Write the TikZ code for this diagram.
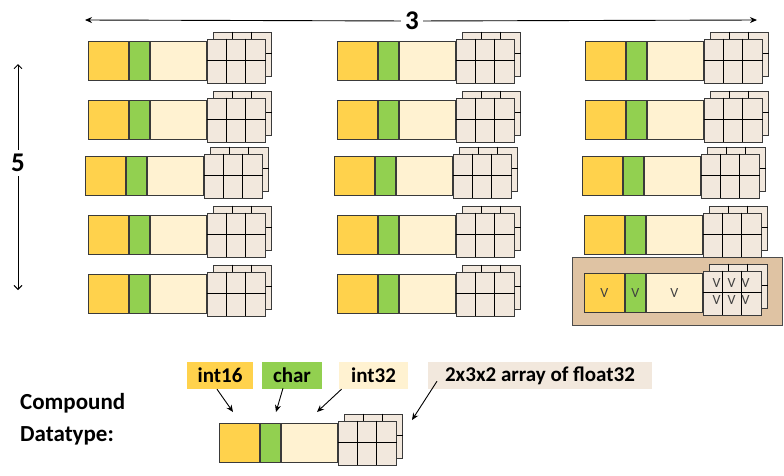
\documentclass[tikz,border=0pt]{standalone}
\usepackage{fontspec}
\setmainfont{Carlito}
\usetikzlibrary{arrows.meta,calc}
\definecolor{cyel}{HTML}{FFD24C}
\definecolor{cgrn}{HTML}{92D050}
\definecolor{ccrm}{HTML}{FFF2D1}
\definecolor{cgrd}{HTML}{F2E8DD}
\definecolor{cbrn}{HTML}{DFC3A3}
\definecolor{cline}{HTML}{3A3A3A}
\tikzset{
  fld/.style={draw=cline, line width=0.9pt, inner sep=0pt, minimum height=39pt},
  yel/.style={fld, fill=cyel, minimum width=40pt, anchor=north west},
  grn/.style={fld, fill=cgrn, minimum width=20pt, anchor=north west},
  crm/.style={fld, fill=ccrm, minimum width=56pt, anchor=north west},
  grd/.style={fld, fill=cgrd, minimum width=58pt, minimum height=44pt, anchor=west},
  gl/.style={line width=1pt, draw=black},
  lbl/.style={inner sep=0pt, minimum height=27pt, font=\bfseries\fontsize{21}{24}\selectfont},
  big/.style={inner sep=4pt, font=\bfseries\fontsize{27}{30}\selectfont},
  pt/.style={-{Stealth[length=7pt,width=6pt]}, line width=0.9pt},
  ln/.style={-{Straight Barb[length=4pt,width=8pt]}, line width=0.9pt},
  vv/.style={inner sep=0pt, text=black!75, font=\fontsize{14}{16}\selectfont},
}
\newcommand\onerec[3]{%
  \node[yel] (#1y) at (#2,#3) {};
  \node[grn] (#1g) at (#1y.north east) {};
  \node[crm] (#1c) at (#1g.north east) {};
  \node[grd] (#1b) at ([shift={(6,-7)}]#1c.east) {};
  \foreach \t in {0.3333,0.6667}
    \draw[gl] ($(#1b.north west)!\t!(#1b.north east)$) -- ($(#1b.south west)!\t!(#1b.south east)$);
  \draw[gl] (#1b.west) -- (#1b.east);
  \node[grd] (#1f) at (#1c.east) {};
  \foreach \t in {0.3333,0.6667}
    \draw[gl] ($(#1f.north west)!\t!(#1f.north east)$) -- ($(#1f.south west)!\t!(#1f.south east)$);
  \draw[gl] (#1f.west) -- (#1f.east);
}
\begin{document}
\begin{tikzpicture}[x=1pt,y=-1pt]
\path[use as bounding box] (0,0) rectangle (784,475);

% dimension arrows
\node[big] (n3) at (412,21) {3};
\coordinate (tL) at (85,20);
\coordinate (tR) at (757,20);
\draw[pt] (n3) -- (tL);
\draw[pt] (n3) -- (tR);
\node[big] (n5) at (18,163) {5};
\coordinate (vT) at (18,64);
\coordinate (vB) at (18,290);
\draw[ln] (n5) -- (vT);
\draw[ln] (n5) -- (vB);

% highlighted background
\node[draw=black!70, line width=0.9pt, fill=cbrn, inner sep=0pt, anchor=north west,
      minimum width=210pt, minimum height=68pt] (hl) at (572,257) {};

% 3 x 5 records
\onerec{ra}{88}{41}
\onerec{rb}{88}{100}
\onerec{rc}{85}{156}
\onerec{rd}{88}{215}
\onerec{re}{88}{274}
\onerec{sa}{337}{41}
\onerec{sb}{337}{100}
\onerec{sc}{334}{156}
\onerec{sd}{337}{215}
\onerec{se}{337}{274}
\onerec{ta}{585}{41}
\onerec{tb}{585}{100}
\onerec{tc}{582}{156}
\onerec{td}{584}{215}
\onerec{te}{584}{273}

% values in highlighted record
\node[vv] (vy) at (tey.center) {V};
\node[vv] (vg) at (teg.center) {V};
\node[vv] (vc) at (tec.center) {V};
\foreach \dx/\nm in {14/a,29/b,43/c}{
  \node[vv] (vu\nm) at ([shift={(\dx,12)}]tef.north west) {V};
  \node[vv] (vl\nm) at ([shift={(\dx,29)}]tef.north west) {V};
}

% legend
\node[lbl, fill=cyel, minimum width=66pt] (l16) at (220,375.5) {int16};
\node[lbl, fill=cgrn, minimum width=60pt] (lch) at (292,375.5) {char};
\node[lbl, fill=ccrm, minimum width=69pt] (l32) at (373.5,375.5) {int32};
\node[lbl, fill=cgrd, minimum width=224pt] (lar) at (540,375.5) {2x3x2 array of float32};

\node[inner sep=0pt, anchor=west, align=left, font=\bfseries\fontsize{23}{32}\selectfont] (cd) at (20,419) {Compound\\Datatype:};

\onerec{lg}{219}{423}

\coordinate (a16) at (233,412);
\coordinate (ach) at (276,412);
\coordinate (a32) at (317,412);
\coordinate (aar) at (412,420);
\draw[pt] ([xshift=-3pt]l16.south) -- (a16);
\draw[pt] ([xshift=-9pt,yshift=1pt]lch.south) -- (ach);
\draw[pt] ([xshift=-32pt]l32.south) -- (a32);
\draw[pt] ([shift={(-103,-8)}]lar.south) -- (aar);
\end{tikzpicture}
\end{document}
